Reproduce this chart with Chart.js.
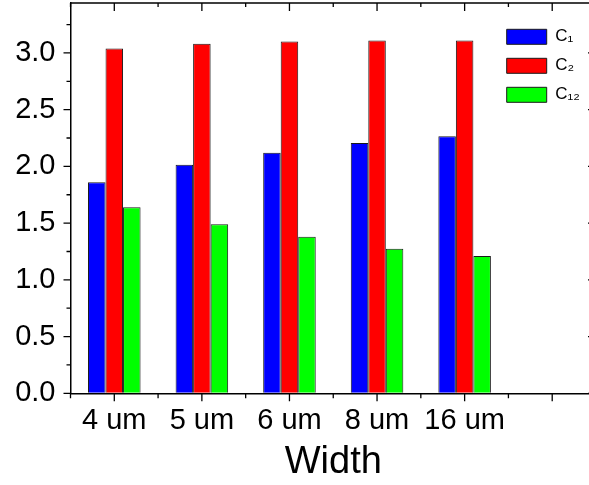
<!DOCTYPE html>
<html>
<head>
<meta charset="utf-8">
<script src="https://cdn.jsdelivr.net/npm/chart.js@4.4.1/dist/chart.umd.min.js"></script>
<style>
html,body{margin:0;padding:0;overflow:hidden;background:#fff;}
#wrap{width:600px;height:485px;position:relative;}
</style>
</head>
<body>
<div id="wrap"><canvas id="c"></canvas></div>
<script>
// ---- data ----
const categories = ['4 um', '5 um', '6 um', '8 um', '16 um', ''];
const seriesNames = ['C\u2081', 'C\u2082', 'C\u2081\u2082'];
const c1Values  = [1.86, 2.015, 2.12, 2.205, 2.265];
const c2Values  = [3.04, 3.08, 3.10, 3.11, 3.11];
const c12Values = [1.64, 1.49, 1.38, 1.275, 1.21];
const yTickValues = [0.0, 0.5, 1.0, 1.5, 2.0, 2.5, 3.0];
const yMinorValues = [0.25, 0.75, 1.25, 1.75, 2.25, 2.75, 3.25];
const yMin = 0;
const yMax = 3.44;
const xTitle = 'Width';

const seriesColors = ['#0000ff', '#ff0000', '#00ff00'];
const FONT = "'Liberation Sans', Arial, sans-serif";

const seriesData = [c1Values, c2Values, c12Values];

const tickDecor = {
  id: 'tickDecor',
  afterLayout(chart) {
    const lg = chart.legend;
    if (lg) {
      const w = lg.right - lg.left;
      lg.left = 494.7;
      lg.right = lg.left + w;
      lg.top = 16.3;
    }
  },
  afterDraw(chart) {
    const {ctx, chartArea: {left, right, top, bottom}, scales: {x, y}} = chart;
    ctx.save();
    ctx.strokeStyle = '#000';
    ctx.lineWidth = 1.5;
    ctx.beginPath();
    ctx.moveTo(left, top); ctx.lineTo(right, top);
    ctx.moveTo(right, top); ctx.lineTo(right, bottom);
    ctx.stroke();

    ctx.lineWidth = 1.3;
    ctx.beginPath();
    const n = categories.length;
    for (let i = 0; i < n; i++) {
      const p = x.getPixelForValue(i);
      ctx.moveTo(p, bottom); ctx.lineTo(p, bottom + 8);
      ctx.moveTo(p, top); ctx.lineTo(p, top + 8);
    }
    for (let i = 0; i <= n; i++) {
      let p;
      if (i === 0) p = left;
      else if (i === n) p = right;
      else p = (x.getPixelForValue(i - 1) + x.getPixelForValue(i)) / 2;
      ctx.moveTo(p, bottom); ctx.lineTo(p, bottom + 5);
      ctx.moveTo(p, top); ctx.lineTo(p, top + 4);
    }
    yTickValues.forEach(v => {
      const p = y.getPixelForValue(v);
      ctx.moveTo(left, p); ctx.lineTo(left - 7, p);
      ctx.moveTo(right, p); ctx.lineTo(right - 8, p);
    });
    yMinorValues.forEach(v => {
      const p = y.getPixelForValue(v);
      ctx.moveTo(left, p); ctx.lineTo(left - 4, p);
      ctx.moveTo(right, p); ctx.lineTo(right - 4, p);
    });
    ctx.stroke();
    ctx.restore();
  }
};

new Chart(document.getElementById('c'), {
  type: 'bar',
  data: {
    labels: categories,
    datasets: seriesNames.map((name, i) => ({
      label: name,
      data: seriesData[i],
      backgroundColor: seriesColors[i],
      borderColor: '#1a1a1a',
      borderWidth: 1,
      categoryPercentage: 0.6,
      barPercentage: 1.0
    }))
  },
  options: {
    responsive: true,
    maintainAspectRatio: false,
    animation: false,
    layout: {padding: {top: 3, right: 4, bottom: 0, left: 0}},
    plugins: {
      tooltip: {enabled: false},
      legend: {
        position: 'chartArea',
        align: 'start',
        labels: {
          boxWidth: 40,
          boxHeight: 15,
          padding: 12,
          color: '#000',
          font: {family: FONT, size: 17}
        }
      }
    },
    scales: {
      x: {
        type: 'category',
        offset: true,
        grid: {display: true, drawOnChartArea: false, drawTicks: false, offset: true},
        border: {display: true, color: '#000', width: 1.5},
        ticks: {
          color: '#000',
          padding: 10,
          maxRotation: 0,
          autoSkip: false,
          font: {family: FONT, size: 29}
        },
        title: {
          display: true,
          text: xTitle,
          color: '#000',
          padding: 0,
          font: {family: FONT, size: 38}
        },
        afterFit(scale) {
          scale.height = 91.7;
          scale.paddingLeft = 0;
          scale.paddingRight = 0;
        }
      },
      y: {
        type: 'linear',
        min: yMin,
        max: yMax,
        grid: {display: true, drawOnChartArea: false, drawTicks: false},
        border: {display: true, color: '#000', width: 1.5},
        afterBuildTicks(scale) {
          scale.ticks = yTickValues.map(v => ({value: v}));
        },
        ticks: {
          color: '#000',
          padding: 15,
          font: {family: FONT, size: 29},
          callback: v => Number(v).toFixed(1)
        },
        afterFit(scale) {
          scale.width = 70.5;
          scale.paddingTop = 0;
          scale.paddingBottom = 0;
        }
      }
    }
  },
  plugins: [tickDecor]
});
</script>
</body>
</html>
